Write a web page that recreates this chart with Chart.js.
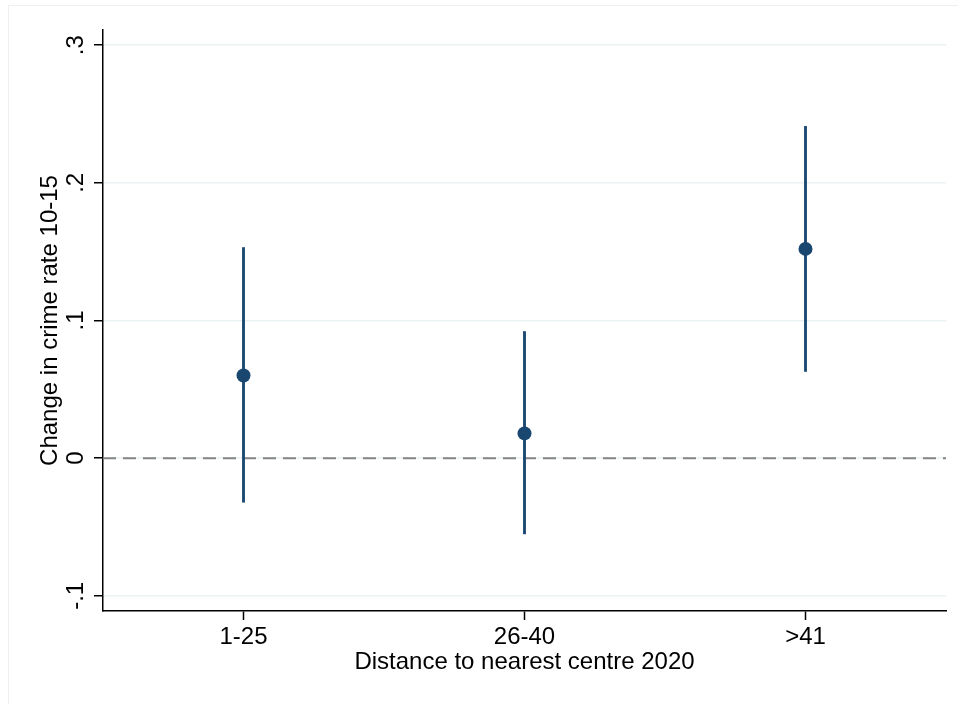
<!DOCTYPE html>
<html lang="en">
<head>
    <meta charset="UTF-8">
    <title>Change in crime rate by distance</title>
    <script src="https://cdn.jsdelivr.net/npm/chart.js"></script>
    <style>
        body { margin: 0; background: #fff; overflow: hidden; }
        #wrap { position: relative; width: 958px; height: 704px; }
        #frame { position: absolute; left: 8px; top: 5px; width: 1200px; height: 1000px; border: 1px solid #efefef; }
        #myChart { position: absolute; left: 0; top: 0; }
    </style>
</head>
<body>
<div id="wrap">
    <div id="frame"></div>
    <canvas id="myChart" width="958" height="704"></canvas>
</div>

<script>
    // distance bands (km) and estimated change with 95% interval
    const bands = ['1-25', '26-40', '>41'];
    const estimate = [0.060, 0.018, 0.152];
    const ciLow = [-0.032, -0.055, 0.063];
    const ciHigh = [0.153, 0.092, 0.241];
    const yTicks = [-0.1, 0, 0.1, 0.2, 0.3];

    const navy = '#1a476f';
    const font = { family: "'Liberation Sans', Arial, Helvetica, sans-serif", size: 24 };

    // label like .3 / -.1
    function fmt(v) {
        if (Math.abs(v) < 1e-9) return '0';
        const s = Math.abs(v).toFixed(1).replace(/^0/, '');
        return (v < 0 ? '-' : '') + s;
    }

    // dashed reference line at zero
    const zeroLine = {
        id: 'zeroLine',
        beforeDatasetsDraw(chart) {
            const y = chart.scales.y.getPixelForValue(0);
            const a = chart.chartArea;
            const c = chart.ctx;
            c.save();
            c.strokeStyle = '#858585';
            c.lineWidth = 2;
            c.setLineDash([13, 7]);
            c.beginPath();
            c.moveTo(a.left, y);
            c.lineTo(a.right, y);
            c.stroke();
            c.restore();
        }
    };

    const ctx = document.getElementById('myChart').getContext('2d');
    const myChart = new Chart(ctx, {
        data: {
            labels: bands,
            datasets: [
                {
                    type: 'line',
                    data: estimate,
                    showLine: false,
                    pointRadius: 7,
                    pointHoverRadius: 7,
                    pointBackgroundColor: navy,
                    pointBorderColor: navy,
                    pointBorderWidth: 0
                },
                {
                    type: 'bar',
                    data: ciLow.map((lo, i) => [lo, ciHigh[i]]),
                    backgroundColor: navy,
                    borderWidth: 0,
                    barThickness: 2.2,
                    grouped: false
                }
            ]
        },
        options: {
            responsive: false,
            animation: false,
            devicePixelRatio: 1,
            layout: { padding: { left: 0, top: 30, right: 12, bottom: 0 } },
            plugins: { legend: { display: false }, tooltip: { enabled: false } },
            scales: {
                x: {
                    type: 'category',
                    offset: true,
                    afterFit: (s) => { s.height = 93; },
                    grid: { offset: false, drawOnChartArea: false, tickLength: 9, tickColor: '#000', tickWidth: 1.5 },
                    border: { color: '#000', width: 1.5 },
                    ticks: { color: '#000', font: font, padding: 3, maxRotation: 0 },
                    title: {
                        display: true,
                        text: 'Distance to nearest centre 2020',
                        color: '#000',
                        font: font,
                        padding: { top: 0, bottom: 27 }
                    }
                },
                y: {
                    min: -0.111,
                    max: 0.311,
                    afterFit: (s) => { s.width = 103; },
                    afterBuildTicks: (s) => { s.ticks = yTicks.map(v => ({ value: v })); },
                    grid: { color: '#eaf2f3', lineWidth: 1.5, tickLength: 9, tickColor: '#000', tickWidth: 1.5 },
                    border: { color: '#000', width: 1.5 },
                    ticks: {
                        color: '#000',
                        font: font,
                        padding: 4,
                        minRotation: 90,
                        maxRotation: 90,
                        crossAlign: 'center',
                        callback: (v) => fmt(v)
                    },
                    title: {
                        display: true,
                        text: 'Change in crime rate 10-15',
                        color: '#000',
                        font: font,
                        padding: { top: 36, bottom: 0 }
                    }
                }
            }
        },
        plugins: [zeroLine]
    });
</script>
</body>
</html>
